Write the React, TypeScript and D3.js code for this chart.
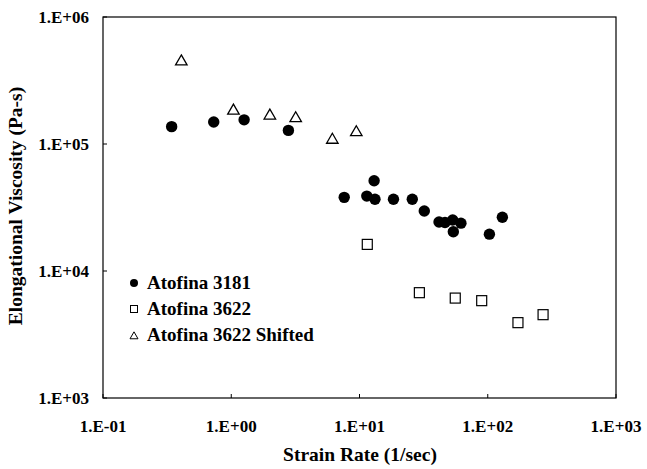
import React from "react";
import * as d3 from "d3";

const xTicks = [0.1, 1, 10, 100, 1000];
const xTickLabels = ["1.E-01", "1.E+00", "1.E+01", "1.E+02", "1.E+03"];
const yTicks = [1e3, 1e4, 1e5, 1e6];
const yTickLabels = ["1.E+03", "1.E+04", "1.E+05", "1.E+06"];

const s3181X = [0.343, 0.73, 1.26, 2.79, 7.6, 11.4, 13.0, 13.2, 18.4, 25.8, 32, 41.7, 46.4, 53.3, 61.8, 53.9, 103, 130];
const s3181Y = [1.37e5, 1.49e5, 1.55e5, 1.28e5, 3.8e4, 3.89e4, 5.14e4, 3.67e4, 3.67e4, 3.67e4, 2.97e4, 2.43e4, 2.41e4, 2.52e4, 2.38e4, 2.04e4, 1.95e4, 2.65e4];

const s3622X = [11.5, 29.3, 55.8, 89.7, 172, 270];
const s3622Y = [1.62e4, 6.75e3, 6.12e3, 5.84e3, 3.92e3, 4.53e3];

const shiftX = [0.408, 1.04, 2.0, 3.18, 6.14, 9.44];
const shiftY = [4.51e5, 1.85e5, 1.69e5, 1.61e5, 1.09e5, 1.25e5];

const legendLabels = ["Atofina 3181", "Atofina 3622", "Atofina 3622 Shifted"];

const W = 647, H = 469;
const L = 103, R = 616, T = 17, B = 398;
const font = "'Liberation Serif', 'Times New Roman', serif";

function tri(cx: number, cy: number, s: number) {
  const h = s * 0.866;
  return `M${cx},${cy - h * 0.6}L${cx + s / 2},${cy + h * 0.4}L${cx - s / 2},${cy + h * 0.4}Z`;
}

export default function App() {
  const x = d3.scaleLog().domain([0.1, 1000]).range([L, R]);
  const y = d3.scaleLog().domain([1e3, 1e6]).range([B, T]);

  return (
    <svg width={W} height={H} style={{ position: "absolute", left: 0, top: 0, background: "#fff" }}>
      <rect x={0} y={0} width={W} height={H} fill="#fff" />
      <rect x={L} y={T} width={R - L} height={B - T} fill="none" stroke="#000" strokeWidth={1.2} />
      {xTicks.map((t, i) => (
        <g key={"xt" + i}>
          <line x1={x(t)} x2={x(t)} y1={B} y2={B - 4} stroke="#000" />
          <text x={x(t)} y={432} textAnchor="middle" fontFamily={font} fontWeight="bold" fontSize={17}>
            {xTickLabels[i]}
          </text>
        </g>
      ))}
      {yTicks.map((t, i) => (
        <g key={"yt" + i}>
          <line x1={L} x2={L + 4} y1={y(t)} y2={y(t)} stroke="#000" />
          <text x={89} y={y(t) + 5.5} textAnchor="end" fontFamily={font} fontWeight="bold" fontSize={17}>
            {yTickLabels[i]}
          </text>
        </g>
      ))}
      <text x={360} y={461} textAnchor="middle" fontFamily={font} fontWeight="bold" fontSize={19.5}>
        Strain Rate (1/sec)
      </text>
      <text transform={`translate(22,206) rotate(-90)`} textAnchor="middle" fontFamily={font} fontWeight="bold" fontSize={19.5}>
        Elongational Viscosity (Pa-s)
      </text>

      {s3622X.map((v, i) => (
        <rect key={"sq" + i} x={x(v) - 5} y={y(s3622Y[i]) - 5} width={10} height={10} fill="#fff" stroke="#000" strokeWidth={1.2} />
      ))}
      {shiftX.map((v, i) => (
        <path key={"tr" + i} d={tri(x(v), y(shiftY[i]), 11.5)} fill="#fff" stroke="#000" strokeWidth={1.3} />
      ))}
      {s3181X.map((v, i) => (
        <circle key={"c" + i} cx={x(v)} cy={y(s3181Y[i])} r={5.7} fill="#000" />
      ))}

      <g fontFamily={font} fontWeight="bold" fontSize={19}>
        <circle cx={134} cy={283} r={4} fill="#000" />
        <text x={147} y={289}>{legendLabels[0]}</text>
        <rect x={130.5} y={305.5} width={7} height={7} fill="#fff" stroke="#000" strokeWidth={1} />
        <text x={147} y={315}>{legendLabels[1]}</text>
        <path d={tri(134, 336, 8)} fill="#fff" stroke="#000" strokeWidth={1} />
        <text x={147} y={341}>{legendLabels[2]}</text>
      </g>
    </svg>
  );
}
